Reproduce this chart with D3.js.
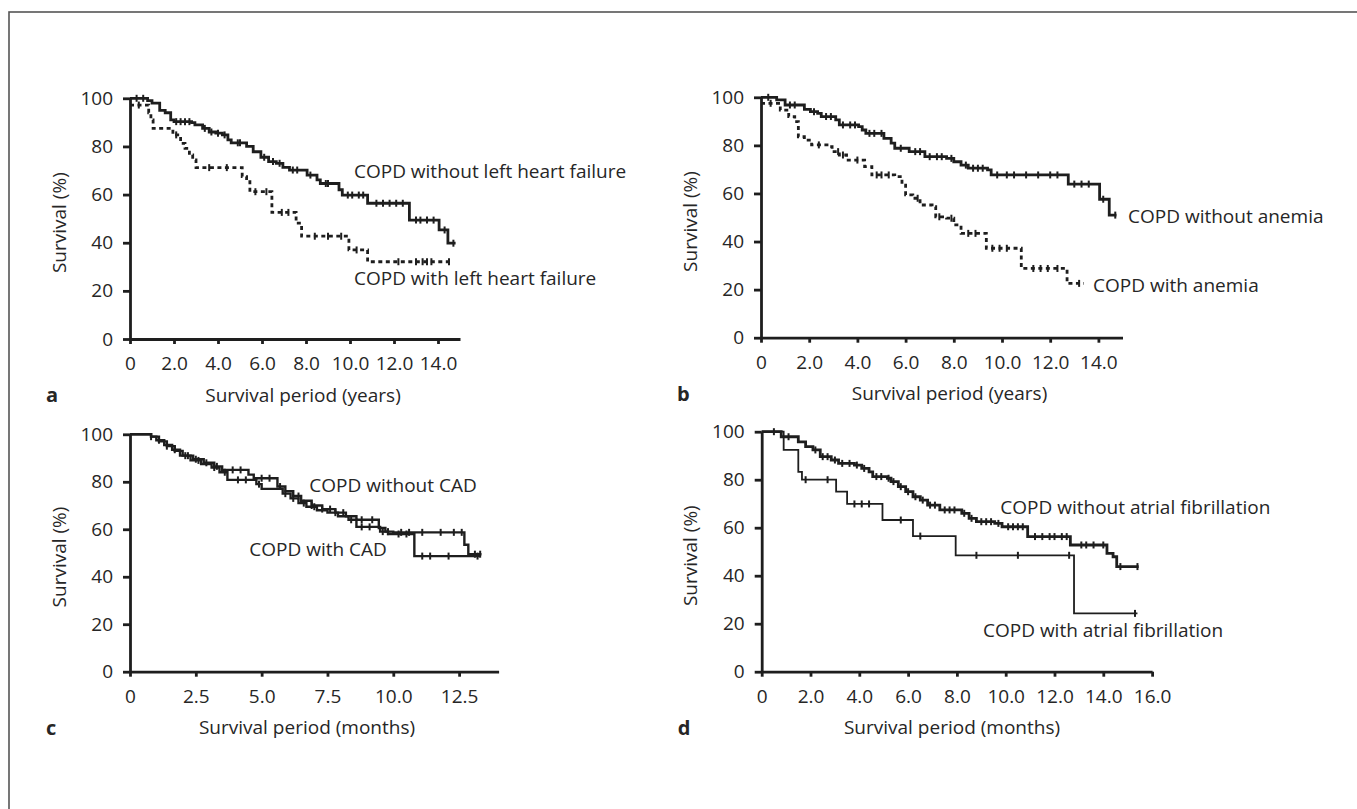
<!DOCTYPE html>
<html>
<head>
<meta charset="utf-8">
<script src="https://cdn.jsdelivr.net/npm/d3@7/dist/d3.min.js"></script>
<style>
  html, body { margin: 0; padding: 0; background: #fff; }
  svg { display: block; }
  text { font-family: "Open Sans", "Noto Sans", sans-serif; fill: #262626; }
  .axis path, .axis line { stroke: #1e1e1e; stroke-width: 2.8; }
  .axis text { font-size: 19px; }
  .curve { fill: none; stroke: #1e1e1e; }
  .cens { stroke: #1e1e1e; stroke-width: 2; }
</style>
</head>
<body>
<svg id="chart" width="1357" height="809"></svg>
<script>
// ---- data ----

// axis ticks
const yTicks = [0, 20, 40, 60, 80, 100];
const xTicksYears = [0, 2, 4, 6, 8, 10, 12, 14];
const xLabelsYears = ['0', '2.0', '4.0', '6.0', '8.0', '10.0', '12.0', '14.0'];
const xTicksC = [0, 2.5, 5, 7.5, 10, 12.5];
const xLabelsC = ['0', '2.5', '5.0', '7.5', '10.0', '12.5'];
const xTicksD = [0, 2, 4, 6, 8, 10, 12, 14, 16];
const xLabelsD = ['0', '2.0', '4.0', '6.0', '8.0', '10.0', '12.0', '14.0', '16.0'];

// a: left heart failure
const aWithoutT = [0, 0.8, 1.0, 1.35, 1.6, 1.85, 2.0, 2.8, 2.95, 3.3, 3.6, 3.9, 4.2, 4.45, 4.6, 5.3, 5.6, 5.95, 6.3, 6.65, 6.95, 7.25, 8.05, 8.5, 8.65, 9.5, 9.65, 10.8, 12.7, 14.05, 14.45];
const aWithoutS = [100, 99, 98, 95, 94, 91, 90.3, 89.9, 89, 87.5, 86, 85.5, 84.8, 82.7, 81.5, 80, 77.8, 75.5, 73.7, 73, 71.3, 70.2, 68.1, 66.1, 64.6, 62, 59.8, 56.4, 49.4, 45.3, 39.8];
const aWithoutEnd = 14.8;
const aWithoutCens = [0.3, 0.6, 2.1, 2.3, 2.5, 2.7, 3.4, 3.7, 4.0, 4.3, 4.9, 5.0, 6.1, 6.5, 6.8, 7.4, 7.6, 8.2, 8.9, 9.0, 9.9, 10.1, 10.4, 10.6, 11.2, 11.5, 11.8, 12.1, 12.4, 13.0, 13.2, 13.5, 13.8, 14.3, 14.7];
const aWithT = [0, 0.85, 0.95, 1.05, 1.95, 2.3, 2.5, 2.7, 2.85, 3.0, 5.1, 5.3, 5.45, 6.45, 7.55, 7.8, 9.95, 10.8];
const aWithS = [97.2, 94, 91, 87.5, 84.8, 81.3, 79.2, 76.5, 74.4, 71.2, 67.5, 65.4, 61.2, 52.6, 48.1, 42.7, 37, 32.1];
const aWithEnd = 14.6;
const aWithCens = [0.4, 2.1, 3.6, 4.4, 5.7, 6.2, 6.9, 7.2, 8.4, 9.0, 9.6, 10.3, 12.2, 13.0, 13.3, 13.5, 13.7, 14.5];

// b: anemia
const bWithoutT = [0, 0.65, 1.0, 1.8, 2.05, 2.35, 2.5, 3.1, 3.25, 4.05, 4.2, 4.35, 5.1, 5.4, 5.55, 6.15, 6.8, 7.7, 8.0, 8.3, 8.6, 9.4, 9.55, 12.75, 14.05, 14.45];
const bWithoutS = [100, 98.9, 96.8, 95, 94, 93.3, 92, 90.6, 88.5, 87.8, 86.4, 85, 82.9, 80.9, 78.8, 77.4, 75.3, 74.6, 73.2, 71.8, 70.5, 69.8, 67.7, 63.9, 57.6, 51];
const bWithoutEnd = 14.75;
const bWithoutCens = [0.3, 1.2, 1.4, 2.2, 2.7, 2.9, 3.4, 3.7, 3.9, 4.5, 4.7, 5.0, 5.8, 6.4, 6.6, 7.0, 7.3, 7.5, 7.9, 8.5, 8.8, 9.0, 9.2, 9.8, 10.2, 10.5, 11.0, 11.5, 12.0, 12.3, 13.0, 13.3, 13.6, 14.2, 14.7];
const bWithT = [0, 0.8, 1.15, 1.4, 1.55, 1.8, 2.1, 2.8, 2.95, 3.25, 3.55, 4.3, 4.6, 5.55, 5.85, 6.0, 6.3, 6.6, 7.1, 7.25, 7.7, 8.0, 8.3, 9.35, 10.8, 12.7];
const bWithS = [97.5, 94.7, 92, 89.9, 83.6, 82.2, 80.2, 79.5, 77.4, 76, 73.9, 71.2, 67.7, 67, 63.5, 59.4, 58, 55.2, 54.5, 50.3, 49.7, 46.9, 43.4, 37.2, 28.8, 22.6];
const bWithEnd = 13.4;
const bWithCens = [0.4, 2.4, 3.2, 3.4, 4.0, 4.8, 5.0, 5.3, 6.5, 7.4, 7.9, 8.6, 8.9, 9.6, 9.9, 10.2, 11.3, 11.6, 11.9, 12.3, 13.2];

// c: coronary artery disease
const cWithoutT = [0, 0.8, 1.1, 1.4, 1.7, 2.0, 2.4, 2.8, 3.2, 3.5, 4.5, 4.7, 5.6, 5.9, 6.2, 6.5, 6.9, 7.3, 7.8, 8.2, 8.6, 9.45, 9.7, 10.0, 12.7, 12.85];
const cWithoutS = [100, 99, 97, 95, 93, 91, 89.5, 88, 86.5, 85, 83, 81.5, 78, 76, 74, 72, 70, 68.5, 67, 65.5, 64, 60.5, 59, 58.7, 53.5, 49.5];
const cWithoutEnd = 13.35;
const cWithoutCens = [0.8, 1.4, 2.1, 2.5, 2.9, 3.3, 3.9, 4.2, 5.0, 5.3, 5.7, 6.4, 6.9, 7.3, 7.6, 8.1, 8.8, 9.2, 9.8, 10.3, 10.6, 11.1, 11.8, 12.3, 12.6, 13.1, 13.3];
const cWithT = [0, 0.8, 1.0, 1.3, 1.6, 1.9, 2.3, 2.7, 3.1, 3.4, 3.7, 4.8, 5.0, 5.8, 6.1, 6.4, 6.7, 7.1, 7.5, 7.9, 8.3, 8.6, 9.5, 9.8, 10.8];
const cWithS = [100, 99, 97.5, 95.5, 93.5, 91, 89, 87.5, 86, 84, 80.8, 79, 77, 75, 73, 71, 69.5, 68, 67, 65.5, 64, 61, 59, 58, 48.7];
const cWithEnd = 13.3;
const cWithCens = [1.1, 1.7, 2.2, 2.6, 3.2, 3.6, 4.1, 4.4, 4.9, 5.9, 6.2, 6.6, 7.0, 7.8, 8.4, 8.8, 9.1, 9.6, 10.2, 10.5, 11.1, 11.4, 12.1, 13.2];

// d: atrial fibrillation
const dWithoutT = [0, 0.8, 1.5, 1.8, 2.1, 2.4, 2.85, 3.15, 3.8, 4.1, 4.4, 4.55, 5.15, 5.3, 5.6, 5.9, 6.2, 6.5, 6.8, 7.3, 8.2, 8.5, 8.8, 9.55, 9.85, 10.9, 12.65, 14.15, 14.4, 14.55];
const dWithoutS = [100, 97.9, 95.8, 93.8, 92.4, 89.6, 88.2, 86.8, 86.1, 84.7, 83.3, 81.3, 80.6, 79.2, 77.1, 75, 72.9, 71.5, 69.4, 67.4, 66, 63.9, 62.5, 61.8, 60.4, 56.3, 52.8, 49.3, 47.9, 43.8];
const dWithoutEnd = 15.45;
const dWithoutCens = [0.5, 1.1, 2.2, 2.5, 2.7, 3.0, 3.3, 3.6, 3.9, 4.2, 4.7, 4.9, 5.2, 5.4, 5.7, 6.0, 6.3, 6.6, 6.9, 7.1, 7.5, 7.7, 7.9, 8.3, 8.6, 9.0, 9.2, 9.4, 9.7, 10.1, 10.3, 10.5, 10.7, 11.2, 11.5, 11.8, 12.0, 12.3, 12.5, 13.1, 13.3, 13.6, 14.0, 14.7, 15.4];
const dWithT = [0, 0.9, 1.5, 1.65, 3.05, 3.5, 4.95, 6.2, 7.95, 12.8];
const dWithS = [100, 92.4, 83.3, 80, 75, 69.9, 63.2, 56.5, 48.5, 24.3];
const dWithEnd = 15.4;
const dWithCens = [1.8, 2.7, 3.8, 4.1, 4.4, 5.7, 6.5, 8.8, 10.5, 12.6, 15.3];

// ---- layout ----
const panels = [
  { letter: 'a', left: 130, right: 460, top: 98.3, bottom: 339, xMax: 15,
    ticks: xTicksYears, labels: xLabelsYears, xTitle: 'Survival period (years)', xTitleAt: 303,
    series: [
      { t: aWithoutT, s: aWithoutS, end: aWithoutEnd, cens: aWithoutCens, width: 2.8, dash: null,
        label: 'COPD without left heart failure', lt: 10.18, ls: 69.5 },
      { t: aWithT, s: aWithS, end: aWithEnd, cens: aWithCens, width: 2.8, dash: '4,3.5',
        label: 'COPD with left heart failure', lt: 10.18, ls: 25.2 }
    ] },
  { letter: 'b', left: 761, right: 1122.5, top: 97.3, bottom: 337.7, xMax: 15,
    ticks: xTicksYears, labels: xLabelsYears, xTitle: 'Survival period (years)', xTitleAt: 949.5,
    series: [
      { t: bWithoutT, s: bWithoutS, end: bWithoutEnd, cens: bWithoutCens, width: 2.8, dash: null,
        label: 'COPD without anemia', lt: 15.23, ls: 50.6 },
      { t: bWithT, s: bWithS, end: bWithEnd, cens: bWithCens, width: 2.8, dash: '4,3.5',
        label: 'COPD with anemia', lt: 13.78, ls: 21.9 }
    ] },
  { letter: 'c', left: 130, right: 498.6, top: 434.3, bottom: 671.7, xMax: 14,
    ticks: xTicksC, labels: xLabelsC, xTitle: 'Survival period (months)', xTitleAt: 307,
    series: [
      { t: cWithoutT, s: cWithoutS, end: cWithoutEnd, cens: cWithoutCens, width: 2.4, dash: null,
        label: 'COPD without CAD', lt: 6.81, ls: 78.6 },
      { t: cWithT, s: cWithS, end: cWithEnd, cens: cWithCens, width: 2.4, dash: null,
        label: 'COPD with CAD', lt: 4.53, ls: 51.7 }
    ] },
  { letter: 'd', left: 761.7, right: 1152.1, top: 431.7, bottom: 671.7, xMax: 16,
    ticks: xTicksD, labels: xLabelsD, xTitle: 'Survival period (months)', xTitleAt: 952,
    series: [
      { t: dWithoutT, s: dWithoutS, end: dWithoutEnd, cens: dWithoutCens, width: 2.8, dash: null,
        label: 'COPD without atrial fibrillation', lt: 9.78, ls: 68.5 },
      { t: dWithT, s: dWithS, end: dWithEnd, cens: dWithCens, width: 1.8, dash: null,
        label: 'COPD with atrial fibrillation', lt: 9.07, ls: 17.4 }
    ] }
];

const svg = d3.select('#chart');

// figure frame (only top and left edges fall inside the window)
svg.append('rect')
    .attr('x', 9).attr('y', 12)
    .attr('width', 1420).attr('height', 900)
    .attr('fill', 'none')
    .attr('stroke', '#555')
    .attr('stroke-width', 1.6);

panels.forEach(function(p) {
    var x = d3.scaleLinear().domain([0, p.xMax]).range([p.left, p.right]);
    var y = d3.scaleLinear().domain([0, 100]).range([p.bottom, p.top]);

    var g = svg.append('g');

    // survival curves
    p.series.forEach(function(sr) {
        var pts = sr.t.map(function(t, i) { return [t, sr.s[i]]; });
        pts.push([sr.end, sr.s[sr.s.length - 1]]);

        var line = d3.line()
            .x(function(d) { return x(d[0]); })
            .y(function(d) { return y(d[1]); })
            .curve(d3.curveStepAfter);

        g.append('path')
            .datum(pts)
            .attr('class', 'curve')
            .attr('stroke-width', sr.width)
            .attr('stroke-dasharray', sr.dash)
            .attr('d', line);

        // censoring marks sit on the step at that time
        var lookup = d3.bisector(function(d) { return d; }).right;
        g.selectAll(null)
            .data(sr.cens)
          .enter().append('line')
            .attr('class', 'cens')
            .attr('x1', function(d) { return x(d); })
            .attr('x2', function(d) { return x(d); })
            .attr('y1', function(d) { return y(sr.s[Math.max(0, lookup(sr.t, d) - 1)]) - 3.5; })
            .attr('y2', function(d) { return y(sr.s[Math.max(0, lookup(sr.t, d) - 1)]) + 3.5; });

        g.append('text')
            .attr('x', x(sr.lt))
            .attr('y', y(sr.ls))
            .attr('dy', '0.35em')
            .style('font-size', '19px')
            .text(sr.label);
    });

    // axes
    g.append('g')
        .attr('class', 'axis')
        .attr('transform', 'translate(0,' + p.bottom + ')')
        .call(d3.axisBottom(x)
            .tickValues(p.ticks)
            .tickFormat(function(d, i) { return p.labels[i]; })
            .tickSize(5).tickSizeOuter(0).tickPadding(13));

    g.append('g')
        .attr('class', 'axis')
        .attr('transform', 'translate(' + p.left + ',0)')
        .call(d3.axisLeft(y)
            .tickValues(yTicks)
            .tickSize(7).tickSizeOuter(0).tickPadding(10));

    g.selectAll('.axis text').attr('fill', '#262626');

    // titles
    g.append('text')
        .attr('transform', 'translate(' + (p.left - 71) + ',' + ((p.top + p.bottom) / 2 + 4) + ') rotate(-90)')
        .attr('text-anchor', 'middle')
        .attr('dy', '0.35em')
        .style('font-size', '19px')
        .text('Survival (%)');

    g.append('text')
        .attr('x', p.xTitleAt)
        .attr('y', p.bottom + 56)
        .attr('text-anchor', 'middle')
        .attr('dy', '0.35em')
        .style('font-size', '19px')
        .text(p.xTitle);

    g.append('text')
        .attr('x', p.left - 84)
        .attr('y', p.bottom + 56)
        .attr('dy', '0.35em')
        .style('font-size', '20px')
        .style('font-weight', 'bold')
        .text(p.letter);
});
</script>
</body>
</html>
